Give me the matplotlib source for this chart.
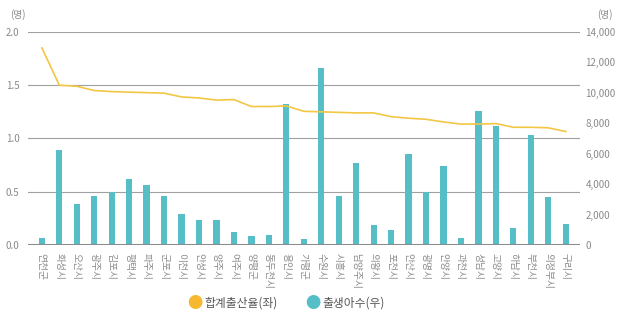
import matplotlib.pyplot as plt
import numpy as np

plt.rcParams['font.family'] = ['Noto Sans CJK KR', 'DejaVu Sans']

cities = ['연천군', '화성시', '오산시', '광주시', '김포시', '평택시', '파주시', '군포시',
          '이천시', '안성시', '양주시', '여주시', '양평군', '동두천시', '용인시', '가평군',
          '수원시', '시흥시', '남양주시', '의왕시', '포천시', '안산시', '광명시', '안양시',
          '과천시', '성남시', '고양시', '하남시', '부천시', '의정부시', '구리시']

# 합계출산율 (left axis)
fertility = [1.85, 1.50, 1.49, 1.45, 1.44, 1.435, 1.43, 1.425, 1.39, 1.38, 1.36, 1.365,
             1.30, 1.30, 1.305, 1.255, 1.25, 1.245, 1.24, 1.24, 1.205, 1.19, 1.18, 1.155,
             1.135, 1.135, 1.14, 1.105, 1.105, 1.10, 1.065]

# 출생아수 (right axis)
births = [480, 6220, 2720, 3230, 3480, 4340, 3960, 3220, 2030, 1630, 1630, 840,
          620, 660, 9290, 380, 11640, 3210, 5380, 1340, 990, 5950, 3470, 5190,
          480, 8800, 7790, 1100, 7260, 3170, 1360]

line_color = '#F2C744'
bar_color = '#56BEC7'
text_color = '#8a8a8a'

fig = plt.figure(figsize=(6.2, 3.26), dpi=100)
ax = fig.add_axes([0.045, 0.2485, 0.89, 0.6535])
ax2 = ax.twinx()

x = np.arange(len(cities))

ax2.bar(x, births, width=0.36, color=bar_color, zorder=2)
ax.plot(x, fertility, color=line_color, lw=1.2, zorder=3)

# line above bars
ax.set_zorder(ax2.get_zorder() + 1)
ax.patch.set_visible(False)

ax.set_xlim(-0.8, 30.8)
ax.set_ylim(0, 2.0)
ax.set_yticks([0, 0.5, 1.0, 1.5, 2.0])
ax.set_yticklabels(['0.0', '0.5', '1.0', '1.5', '2.0'])
ax2.set_ylim(0, 14000)
ax2.set_yticks(range(0, 14001, 2000))
ax2.set_yticklabels(['0'] + [f'{v:,}' for v in range(2000, 14001, 2000)])

for v in [0.5, 1.0, 1.5, 2.0]:
    ax2.axhline(v * 7000, color='#a0a0a0', lw=0.8, zorder=1)
ax2.axhline(0, color='#8c8c8c', lw=2.2, zorder=4)

ax.set_xticks(x)
ax.set_xticklabels(cities, rotation=270, fontsize=6.5, color=text_color, va='top', ha='center')

for a in (ax, ax2):
    for s in a.spines.values():
        s.set_visible(False)
    a.tick_params(length=0, colors=text_color, labelsize=7)
ax.tick_params(axis='y', pad=6)
ax2.tick_params(axis='y', pad=4)
ax.tick_params(axis='x', pad=6)

fig.text(0.016, 0.955, '(명)', fontsize=7, color=text_color, ha='left', va='center')
fig.text(0.963, 0.955, '(명)', fontsize=7, color=text_color, ha='left', va='center')

# legend
fig.text(0.315, 0.07, '●', fontsize=11, color='#F5B82E', ha='center', va='center')
fig.text(0.33, 0.07, '합계출산율(좌)', fontsize=8.5, color='#555555', ha='left', va='center')
fig.text(0.505, 0.07, '●', fontsize=11, color=bar_color, ha='center', va='center')
fig.text(0.52, 0.07, '출생아수(우)', fontsize=8.5, color='#555555', ha='left', va='center')

fig.savefig('out.png', dpi=100)
